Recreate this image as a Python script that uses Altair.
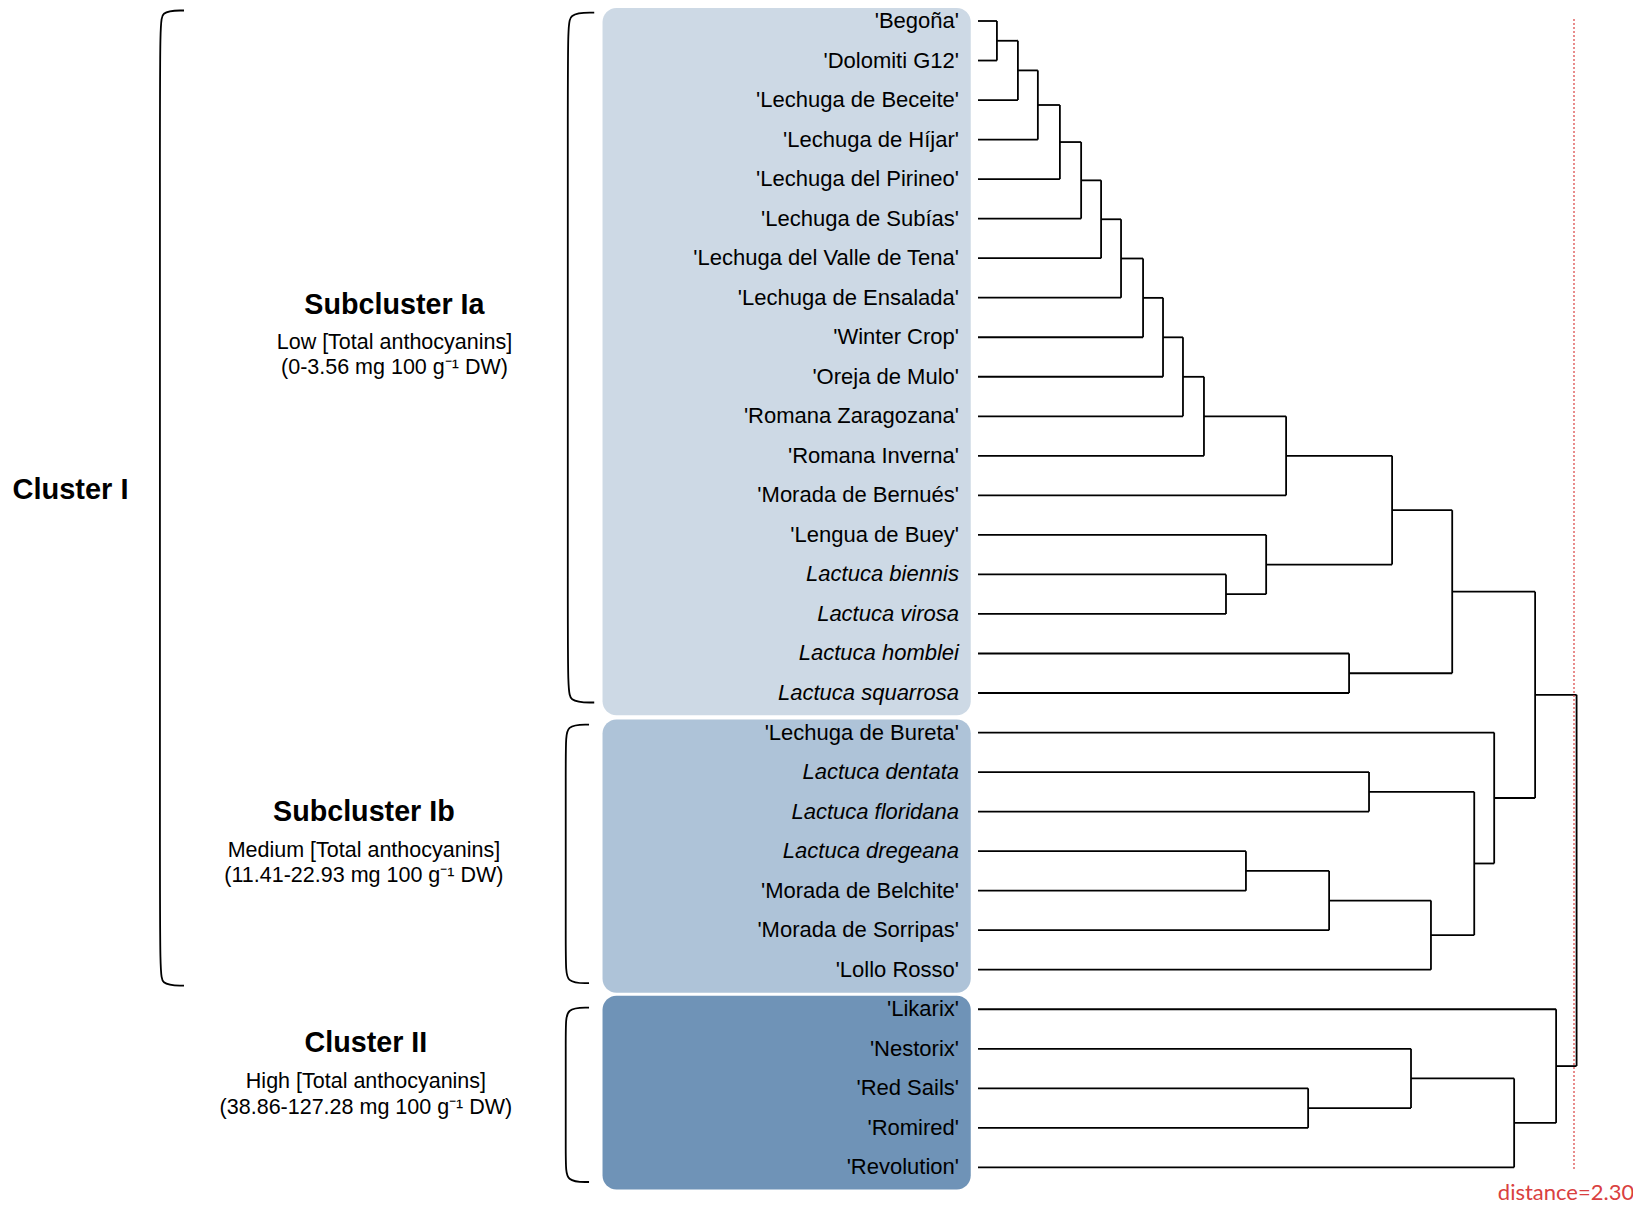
import altair as alt
import pandas as pd

# ---------------- data ----------------
leaves = [
    "'Begoña'", "'Dolomiti G12'", "'Lechuga de Beceite'", "'Lechuga de Híjar'",
    "'Lechuga del Pirineo'", "'Lechuga de Subías'", "'Lechuga del Valle de Tena'",
    "'Lechuga de Ensalada'", "'Winter Crop'", "'Oreja de Mulo'", "'Romana Zaragozana'",
    "'Romana Inverna'", "'Morada de Bernués'", "'Lengua de Buey'", "Lactuca biennis",
    "Lactuca virosa", "Lactuca homblei", "Lactuca squarrosa", "'Lechuga de Bureta'",
    "Lactuca dentata", "Lactuca floridana", "Lactuca dregeana", "'Morada de Belchite'",
    "'Morada de Sorripas'", "'Lollo Rosso'", "'Likarix'", "'Nestorix'", "'Red Sails'",
    "'Romired'", "'Revolution'",
]

# merges (linkage style: ids < 30 are leaves, 30+ are earlier merges)
merge_a = [0, 30, 31, 32, 33, 34, 35, 36, 37, 38, 39, 40, 14, 13, 41, 16, 44,
           19, 21, 48, 49, 47, 18, 46, 27, 26, 55, 25, 53]
merge_b = [1, 2, 3, 4, 5, 6, 7, 8, 9, 10, 11, 12, 15, 42, 43, 17, 45,
           20, 22, 23, 24, 50, 51, 52, 28, 54, 29, 56, 57]
merge_h = [0.073, 0.154, 0.231, 0.316, 0.398, 0.475, 0.552, 0.637, 0.714, 0.791,
           0.872, 1.189, 0.957, 1.112, 1.598, 1.432, 1.830,
           1.509, 1.034, 1.355, 1.748, 1.915, 1.992, 2.150,
           1.274, 1.671, 2.069, 2.231, 2.310]

cutoff = 2.30
cutoff_label = "distance=2.30"

group_names = ["Ia", "Ib", "II"]
group_titles = ["Subcluster Ia", "Subcluster Ib", "Cluster II"]
group_levels = ["Low [Total anthocyanins]", "Medium [Total anthocyanins]",
                "High [Total anthocyanins]"]
group_ranges = ["(0-3.56 mg 100 g\u207b\u00b9 DW)", "(11.41-22.93 mg 100 g\u207b\u00b9 DW)",
                "(38.86-127.28 mg 100 g\u207b\u00b9 DW)"]
group_colors = ["#CDD9E5", "#AEC3D8", "#6F93B7"]
cluster_one = "Cluster I"

# ---------------- layout (data units: x = distance, y = leaf row) ----------------
W, H = 1625, 1200
PX_PER_D = 259.13
X0 = 970.0
ROW0 = 13.0
ROW_H = 39.53
x_dom = [-X0 / PX_PER_D, (W - X0) / PX_PER_D]
y_dom = [-ROW0 / ROW_H, (H - ROW0) / ROW_H]
xs = alt.Scale(domain=x_dom, nice=False, zero=False)
ys = alt.Scale(domain=y_dom, nice=False, zero=False, reverse=True)

# group boxes (row spans) and x span behind the labels
box_top = [y_dom[0], 17.67, 24.66]
box_bottom = [17.56, 24.58, 29.56]
box_left, box_right = -1.449, -0.028

# annotation positions
title_x = [-2.252, -2.370, -2.362]
title_row = [7.18, 20.01, 25.86]
level_row = [8.14, 20.99, 26.85]
range_row = [8.78, 21.63, 27.51]
cluster_one_pos = (-3.726, 11.87)

brace_x = [-3.157, -1.583, -1.591, -1.591]
brace_tip = [-3.064, -1.481, -1.501, -1.501]
brace_top = [-0.266, -0.21, 17.80, 24.96]
brace_bottom = [24.40, 17.24, 24.34, 29.37]

# ---------------- dendrogram segments ----------------
n = len(leaves)
pos = {i: float(i) for i in range(n)}
hgt = {i: 0.0 for i in range(n)}
segs = []
for k, (a, b, h) in enumerate(zip(merge_a, merge_b, merge_h)):
    node = n + k
    for c in (a, b):
        segs.append(dict(x1=hgt[c], x2=h, y1=pos[c], y2=pos[c]))
    segs.append(dict(x1=h, x2=h, y1=pos[a], y2=pos[b]))
    pos[node] = (pos[a] + pos[b]) / 2
    hgt[node] = h
seg_df = pd.DataFrame(segs)

lab_df = pd.DataFrame({
    "label": leaves,
    "row": list(range(n)),
    "x": [0.0] * n,
    "italic": [not s.startswith("'") for s in leaves],
})

box_df = pd.DataFrame({"grp": group_names, "x1": box_left, "x2": box_right,
                       "y1": box_top, "y2": box_bottom})

brace_rows = []
k = 0.5
for i, (bx, bt, top, bot) in enumerate(zip(brace_x, brace_tip, brace_top, brace_bottom)):
    pts = [(bt, top), (bx, top), (bx, top + k), (bx, bot - k), (bx, bot), (bt, bot)]
    for j, (px, py) in enumerate(pts):
        brace_rows.append(dict(brace=i, ord=j, x=px, y=py))
brace_df = pd.DataFrame(brace_rows)

title_df = pd.DataFrame({"t": group_titles, "x": title_x, "y": title_row})
level_df = pd.DataFrame({"t": group_levels + group_ranges,
                         "x": title_x + title_x, "y": level_row + range_row})
c1_df = pd.DataFrame({"t": [cluster_one], "x": [cluster_one_pos[0]], "y": [cluster_one_pos[1]]})
cut_df = pd.DataFrame({"x": [cutoff], "y1": [-0.05], "y2": [29.05], "t": [cutoff_label],
                       "ty": [29.96]})

FONT = "Liberation Sans"


def X(f):
    return alt.X(f, scale=xs, axis=None)


def Y(f):
    return alt.Y(f, scale=ys, axis=None)


boxes = alt.Chart(box_df).mark_rect(cornerRadius=14).encode(
    x=X("x1:Q"), x2="x2:Q", y=Y("y1:Q"), y2="y2:Q",
    color=alt.Color("grp:N", scale=alt.Scale(domain=group_names, range=group_colors), legend=None),
)

dendro = alt.Chart(seg_df).mark_rule(color="#000000", strokeWidth=1.8).encode(
    x=X("x1:Q"), x2="x2:Q", y=Y("y1:Q"), y2="y2:Q"
)

labels_norm = alt.Chart(lab_df[~lab_df["italic"]]).mark_text(
    align="right", baseline="middle", dx=-19, dy=0, fontSize=22, font=FONT, color="#000000"
).encode(x=X("x:Q"), y=Y("row:Q"), text="label:N")

labels_ital = alt.Chart(lab_df[lab_df["italic"]]).mark_text(
    align="right", baseline="middle", dx=-19, dy=0, fontSize=22, font=FONT,
    fontStyle="italic", color="#000000"
).encode(x=X("x:Q"), y=Y("row:Q"), text="label:N")

braces = alt.Chart(brace_df).mark_line(interpolate="basis", color="#000000", strokeWidth=1.8).encode(
    x=X("x:Q"), y=Y("y:Q"), detail="brace:N", order="ord:Q"
)

titles = alt.Chart(title_df).mark_text(
    align="center", baseline="middle", fontSize=28.7, fontWeight="bold", font=FONT, color="#000000"
).encode(x=X("x:Q"), y=Y("y:Q"), text="t:N")

levels = alt.Chart(level_df).mark_text(
    align="center", baseline="middle", fontSize=21.5, font=FONT, color="#000000"
).encode(x=X("x:Q"), y=Y("y:Q"), text="t:N")

c1 = alt.Chart(c1_df).mark_text(
    align="left", baseline="middle", fontSize=29, fontWeight="bold", font=FONT, color="#000000"
).encode(x=X("x:Q"), y=Y("y:Q"), text="t:N")

cut_rule = alt.Chart(cut_df).mark_rule(color="#D94040", strokeWidth=1.2, strokeDash=[2, 2]).encode(
    x=X("x:Q"), y=Y("y1:Q"), y2="y2:Q"
)
cut_text = alt.Chart(cut_df).mark_text(
    align="center", baseline="bottom", dx=-8, fontSize=22, font="Lato", color="#D94040"
).encode(x=X("x:Q"), y=Y("ty:Q"), text="t:N")

chart = alt.layer(
    boxes, braces, dendro, cut_rule, labels_norm, labels_ital, titles, levels, c1, cut_text
).properties(
    width=W, height=H, padding=0,
    autosize=alt.AutoSizeParams(type="none"),
).configure_view(stroke=None)

chart.save("out.html", embed_options={"renderer": "svg", "actions": False})
